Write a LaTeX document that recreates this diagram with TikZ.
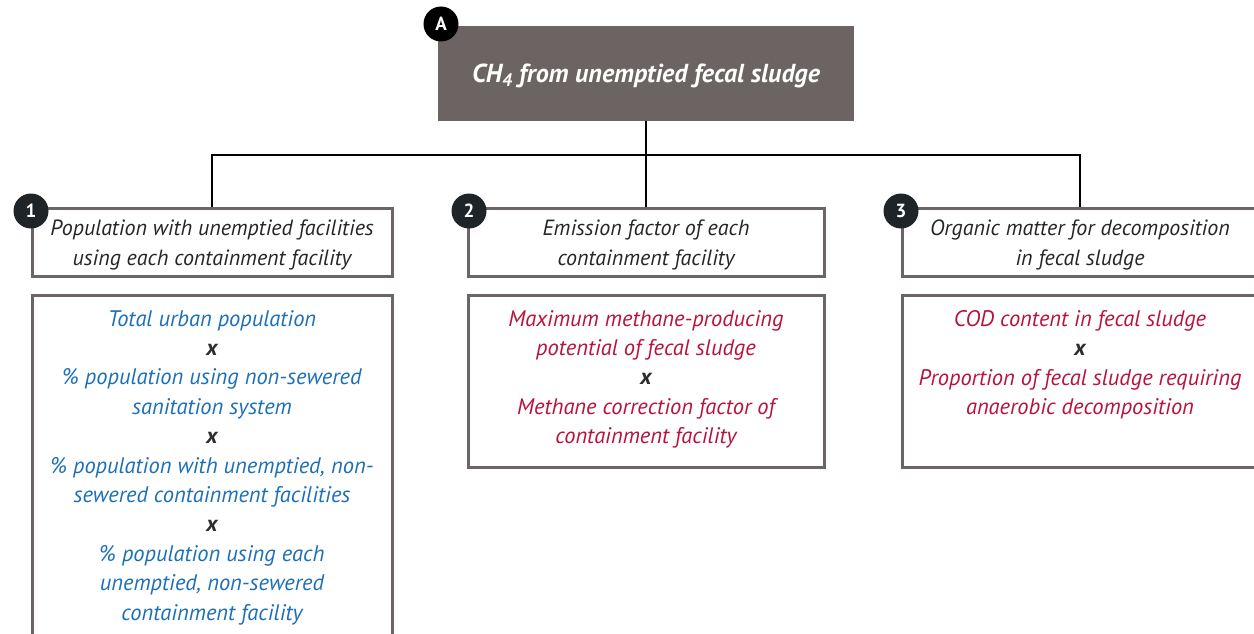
\documentclass[tikz,border=0pt]{standalone}
\usepackage{fontspec}
\setmainfont{PT Sans}
\definecolor{slate}{HTML}{6B6462}
\definecolor{framegray}{HTML}{6B6665}
\definecolor{badgedark}{HTML}{1F2428}
\definecolor{factorblue}{HTML}{1D70B7}
\definecolor{factorred}{HTML}{B8133F}
\definecolor{timesgray}{HTML}{2D2D2D}
\tikzset{
  titlebox/.style={fill=slate, minimum width=416, minimum height=95, inner sep=0},
  titletext/.style={inner sep=0, text=white, font=\fontsize{26}{30}\selectfont\bfseries\itshape},
  headbox/.style={draw=framegray, line width=3pt, fill=white, minimum width=360,
    minimum height=68, inner sep=0},
  headtext/.style={align=center, inner sep=0, text=black!85,
    font=\fontsize{22}{30}\selectfont\itshape},
  factorbox/.style={draw=framegray, line width=3pt, fill=white, inner sep=0},
  factors/.style={align=center, inner sep=0, anchor=north,
    font=\fontsize{22.5}{29.4}\selectfont\itshape},
  badge/.style={circle, fill=#1, minimum size=35, inner sep=0, text=white,
    font=\fontsize{19}{19}\selectfont\bfseries},
  link/.style={line width=2pt, black},
}
\newcommand{\timesmark}{\textcolor{timesgray}{\bfseries x}}
\begin{document}
\begin{tikzpicture}[x=1pt, y=-1pt]
\useasboundingbox (0,0) rectangle (1254,634);
\begin{scope}
\clip (0,0) rectangle (1254,634);

% top-level quantity
\node[titlebox] (A) at (646,73.5) {};
\node[titletext] (At) at ([yshift=-2]A.center) {CH\textsubscript{4} from unemptied fecal sludge};

% three contributing terms
\node[headbox] (h1) at (212,242) {};
\node[headbox, minimum width=356] (h2) at (646,242) {};
\node[headbox, minimum width=356] (h3) at (1080,242) {};
\node[headtext] (h1t) at ([yshift=-3]h1.center) {Population with unemptied facilities\\using each containment facility};
\node[headtext] (h2t) at ([yshift=-3]h2.center) {Emission factor of each\\containment facility};
\node[headtext] (h3t) at ([yshift=-3]h3.center) {Organic matter for decomposition\\in fecal sludge};

% connectors
\draw[link] (A.south) -- (h2.north);
\draw[link] (h1.north) -- ++(0,-52) -| (h3.north);

% factor boxes
\node[factorbox, minimum width=360, minimum height=372, anchor=north] (b1) at (212,294) {};
\node[factorbox, minimum width=356, minimum height=172, anchor=north] (b2) at (646,294) {};
\node[factorbox, minimum width=356, minimum height=172, anchor=north] (b3) at (1080,294) {};

\node[factors, text=factorblue] (t1) at ([yshift=-16]b1.north) {Total urban population\\ \timesmark\\
  \% population using non-sewered\\sanitation system\\ \timesmark\\
  \% population with unemptied, non-\\sewered containment facilities\\ \timesmark\\
  \% population using each\\unemptied, non-sewered\\containment facility};
\node[factors, text=factorred] (t2) at ([yshift=-16]b2.north) {Maximum methane-producing\\potential of fecal sludge\\ \timesmark\\
  Methane correction factor of\\containment facility};
\node[factors, text=factorred] (t3) at ([yshift=-16]b3.north) {COD content in fecal sludge\\ \timesmark\\
  Proportion of fecal sludge requiring\\anaerobic decomposition};

% badges
\node[badge=black] (kA) at (441,24) {A};
\node[badge=badgedark] (k1) at (31,211) {1};
\node[badge=badgedark] (k2) at (469,211) {2};
\node[badge=badgedark] (k3) at (901,211) {3};
\end{scope}
\end{tikzpicture}
\end{document}
